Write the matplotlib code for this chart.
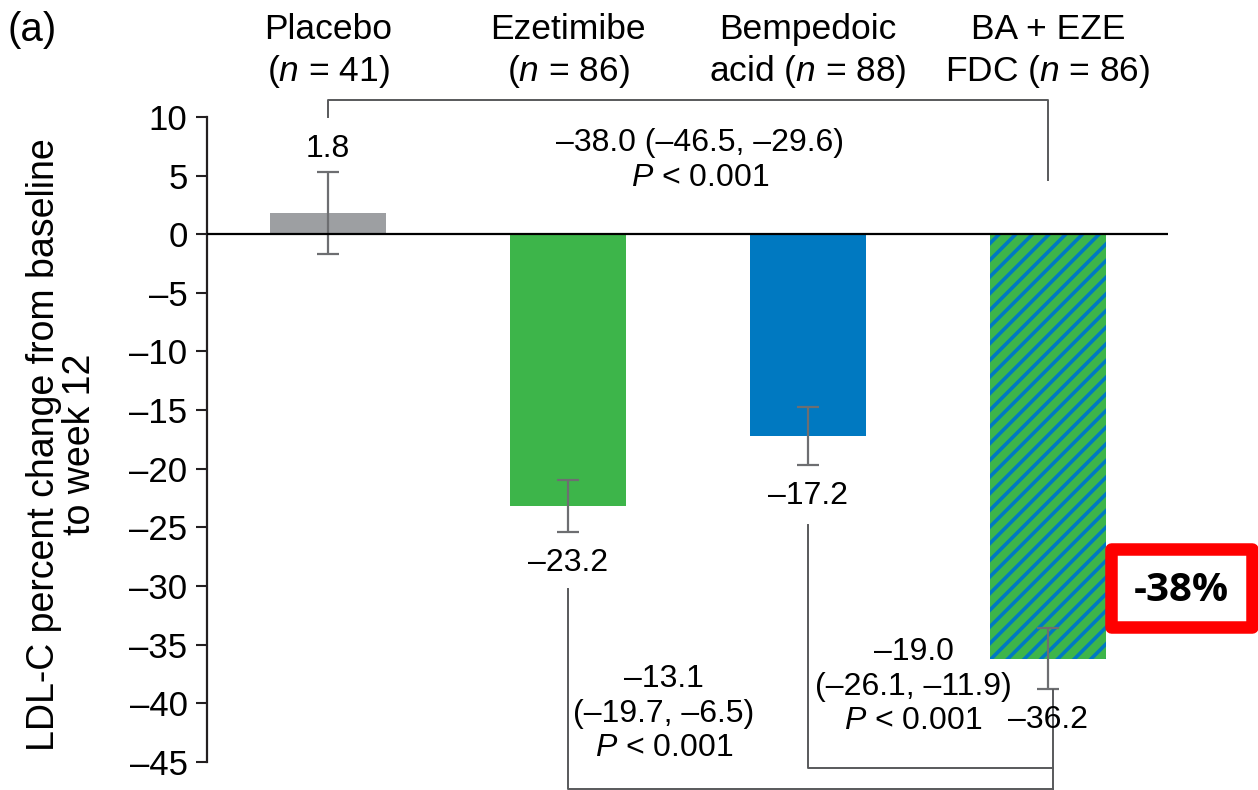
import matplotlib
matplotlib.use('Agg')
import matplotlib.pyplot as plt
from matplotlib.patches import Rectangle

plt.rcParams['font.family'] = ['Liberation Sans', 'DejaVu Sans']
plt.rcParams['mathtext.fontset'] = 'custom'
plt.rcParams['mathtext.rm'] = 'Liberation Sans'
plt.rcParams['mathtext.it'] = 'Liberation Sans:italic'
plt.rcParams['hatch.linewidth'] = 2.6

M = '\u2013'  # long minus as in the original typesetting

# data
groups = ['Placebo\n($n$ = 41)', 'Ezetimibe\n($n$ = 86)',
          'Bempedoic\nacid ($n$ = 88)', 'BA + EZE\nFDC ($n$ = 86)']
means = [1.8, -23.2, -17.2, -36.2]
errs = [3.5, 2.2, 2.5, 2.6]
colors = ['#9d9fa2', '#3db54a', '#0079c1', '#3db54a']
hatches = ['', '', '', '//']
hatch_colors = ['#9d9fa2', '#3db54a', '#0079c1', '#0079c1']

# pairwise comparisons vs FDC
comparisons = [
    f'{M}38.0 ({M}46.5, {M}29.6)\n$P$ < 0.001',
    f'{M}13.1\n({M}19.7, {M}6.5)\n$P$ < 0.001',
    f'{M}19.0\n({M}26.1, {M}11.9)\n$P$ < 0.001',
]

FS = 23
LINE = '#58595b'

fig = plt.figure(figsize=(12.58, 7.9), dpi=100)
ax = fig.add_axes([207 / 1258, 0, 1 - 207 / 1258, 0.8742])
x = list(range(len(means)))

ax.bar(x, means, width=0.48, color=colors, edgecolor=hatch_colors, linewidth=0)
for b, h in zip(ax.patches, hatches):
    if h:
        b.set_hatch(h)
ax.errorbar(x, means, yerr=errs, fmt='none', ecolor='#6d6e71',
            elinewidth=1.6, capsize=8, capthick=1.6)
ax.hlines(0, -0.504, 3.5, color='black', lw=1.6, zorder=3)

# value labels beyond the error bars
for xi, m, e in zip(x, means, errs):
    if m > 0:
        ax.text(xi, m + e + 2.0, f'{m:.1f}', ha='center', va='center', fontsize=FS)
    else:
        ax.text(xi, m - e - 2.6, f'{m:.1f}'.replace('-', M),
                ha='center', va='center', fontsize=FS)

# brackets
ax.plot([0, 0, 3, 3], [10, 11.45, 11.45, 4.6], color=LINE, lw=1.4, clip_on=False)
ax.text(1.55, 6.3, comparisons[0], ha='center', va='center', fontsize=FS,
        linespacing=1.2)
ax.plot([1, 1, 3.02], [-30.3, -47.3, -47.3], color=LINE, lw=1.4, clip_on=False)
ax.plot([2, 2, 3.02], [-24.8, -45.5, -45.5], color=LINE, lw=1.4, clip_on=False)
ax.plot([3.02, 3.02], [-38.9, -47.3], color=LINE, lw=1.4, clip_on=False)
ax.text(1.40, -40.9, comparisons[1], ha='center', va='center', fontsize=FS,
        linespacing=1.2)
ax.text(2.44, -38.6, comparisons[2], ha='center', va='center', fontsize=FS,
        linespacing=1.2)

# highlighted reduction
ax.add_patch(Rectangle((3.2625, -33.51), 0.5875, 6.65, fill=False,
                       edgecolor='#ff0000', lw=9, joinstyle='round', clip_on=False))
ax.text(3.555, -30.4, '-38%', ha='center', va='center', fontsize=29,
        fontweight='bold', family='Open Sans')

ax.set_xlim(-0.504, 3.875)
ax.set_ylim(-47.4, 11.5)
ticks = list(range(-45, 11, 5))
ax.set_yticks(ticks, [str(t).replace('-', M) for t in ticks])
ax.tick_params(axis='y', direction='out', length=8, width=1.5, labelsize=25,
               pad=6, color='#231f20')
ax.xaxis.tick_top()
ax.set_xticks(x, groups)
ax.tick_params(axis='x', length=0, labelsize=25.5, pad=7)
for lbl in ax.get_xticklabels():
    lbl.set_linespacing(1.22)

for s in ['top', 'right', 'bottom']:
    ax.spines[s].set_visible(False)
ax.spines['left'].set_bounds(-45, 10)
ax.spines['left'].set_linewidth(1.6)
ax.spines['left'].set_color('#231f20')

ax.set_ylabel('LDL-C percent change from baseline\nto week 12', fontsize=27,
              linespacing=1.0)
ax.yaxis.set_label_coords(-0.104, 0.5)

fig.text(0.006, 1 - 30 / 790, '(a)', fontsize=29, va='center', ha='left')

fig.savefig('out.png', dpi=100)
